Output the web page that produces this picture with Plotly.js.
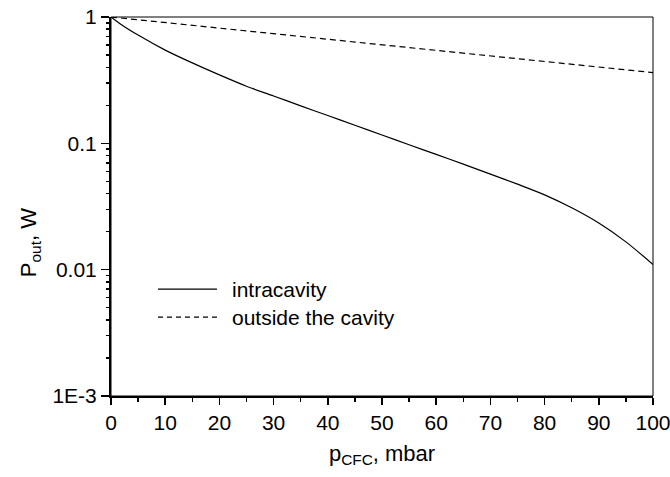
<!DOCTYPE html>
<html>
<head>
<meta charset="utf-8">
<script src="https://cdn.plot.ly/plotly-3.0.1.min.js"></script>
<style>html,body{margin:0;padding:0;background:#fff;}#chart{width:670px;height:477px;}</style>
</head>
<body>
<div id="chart"></div>
<script>
// Data
var seriesNames = ["intracavity", "outside the cavity"];
var pIntra = [0, 2, 5, 10, 15, 20, 25, 30, 35, 40, 45, 50, 55, 60, 65, 70, 75, 80, 85, 90, 95, 100];
var powIntra = [1.0, 0.865, 0.719, 0.547, 0.433, 0.348, 0.283, 0.237, 0.198, 0.166, 0.139, 0.1164, 0.0975, 0.0817, 0.0684, 0.0571, 0.0475, 0.0391, 0.0309, 0.0234, 0.0166, 0.0110];
var pOut = [0, 20, 40, 60, 80, 100];
var powOut = [1.0, 0.817, 0.667, 0.545, 0.445, 0.363];
var xTickVals = [0, 10, 20, 30, 40, 50, 60, 70, 80, 90, 100];
var yTickVals = [0.001, 0.01, 0.1, 1];
var yTickText = ["1E-3", "0.01", "0.1", "1"];
var yMinorVals = [0.002,0.003,0.004,0.005,0.006,0.007,0.008,0.009,0.02,0.03,0.04,0.05,0.06,0.07,0.08,0.09,0.2,0.3,0.4,0.5,0.6,0.7,0.8,0.9];

var font = "Liberation Sans, Arial, sans-serif";
var traces = [
  {x: pIntra, y: powIntra, type: "scatter", mode: "lines", name: seriesNames[0],
   line: {color: "#000", width: 1.2, shape: "spline", smoothing: 0.8}, showlegend: false},
  {x: pOut, y: powOut, type: "scatter", mode: "lines", name: seriesNames[1], yaxis: "y2",
   line: {color: "#000", width: 1.2, dash: "6px,4px"}, showlegend: false}
];

var layout = {
  width: 670, height: 477,
  margin: {l: 111, r: 17, t: 17, b: 81},
  paper_bgcolor: "#fff", plot_bgcolor: "#fff",
  font: {family: font, color: "#000", size: 21},
  xaxis: {
    range: [0, 100], tickmode: "array", tickvals: xTickVals,
    ticks: "outside", ticklen: 7, tickwidth: 1.5, tickcolor: "#000",
    showline: true, linewidth: 2, linecolor: "#000", showgrid: false, zeroline: false,
    ticklabeloverflow: "allow",
    tickfont: {size: 21, family: font},
    minor: {ticks: "outside", ticklen: 4, tickwidth: 1.5, tickcolor: "#000", dtick: 5, tick0: 0, showgrid: false},
    title: {text: "p<sub>CFC</sub>, mbar", font: {size: 22, family: font}, standoff: 12}
  },
  yaxis: {
    type: "log", range: [-3, 0], tickmode: "array", tickvals: yTickVals, ticktext: yTickText,
    ticks: "outside", ticklen: 8, tickwidth: 1.5, tickcolor: "#000",
    showline: true, linewidth: 2, linecolor: "#000", showgrid: false, zeroline: false,
    ticklabeloverflow: "allow",
    tickfont: {size: 21, family: font}
  },
  yaxis2: {
    type: "log", range: [-3, 0], overlaying: "y", side: "left", anchor: "x",
    tickmode: "array", tickvals: yMinorVals, showticklabels: false,
    ticks: "outside", ticklen: 4, tickwidth: 1.5, tickcolor: "#000",
    showline: false, showgrid: false, zeroline: false
  },
  shapes: [
    {type: "rect", xref: "paper", yref: "paper", x0: 0, x1: 1, y0: 0, y1: 1, line: {color: "#000", width: 1}},
    {type: "line", xref: "paper", yref: "paper", x0: 0.0867, x1: 0.1955, y0: 0.282, y1: 0.282, line: {color: "#000", width: 1.2}},
    {type: "line", xref: "paper", yref: "paper", x0: 0.0867, x1: 0.1955, y0: 0.208, y1: 0.208, line: {color: "#000", width: 1.2, dash: "5px,4px"}}
  ],
  annotations: [
    {xref: "paper", yref: "paper", x: 0.220, y: 0.282, xanchor: "left", yanchor: "middle", text: seriesNames[0], showarrow: false, font: {size: 21, family: font}},
    {xref: "paper", yref: "paper", x: 0.220, y: 0.208, xanchor: "left", yanchor: "middle", text: seriesNames[1], showarrow: false, font: {size: 21, family: font}},
    {xref: "paper", yref: "paper", x: -0.149, y: 0.404, xanchor: "center", yanchor: "middle", textangle: -90, text: "P<sub>out</sub>, W", showarrow: false, font: {size: 22, family: font}}
  ]
};

Plotly.newPlot("chart", traces, layout, {displayModeBar: false, staticPlot: true});
</script>
</body>
</html>
